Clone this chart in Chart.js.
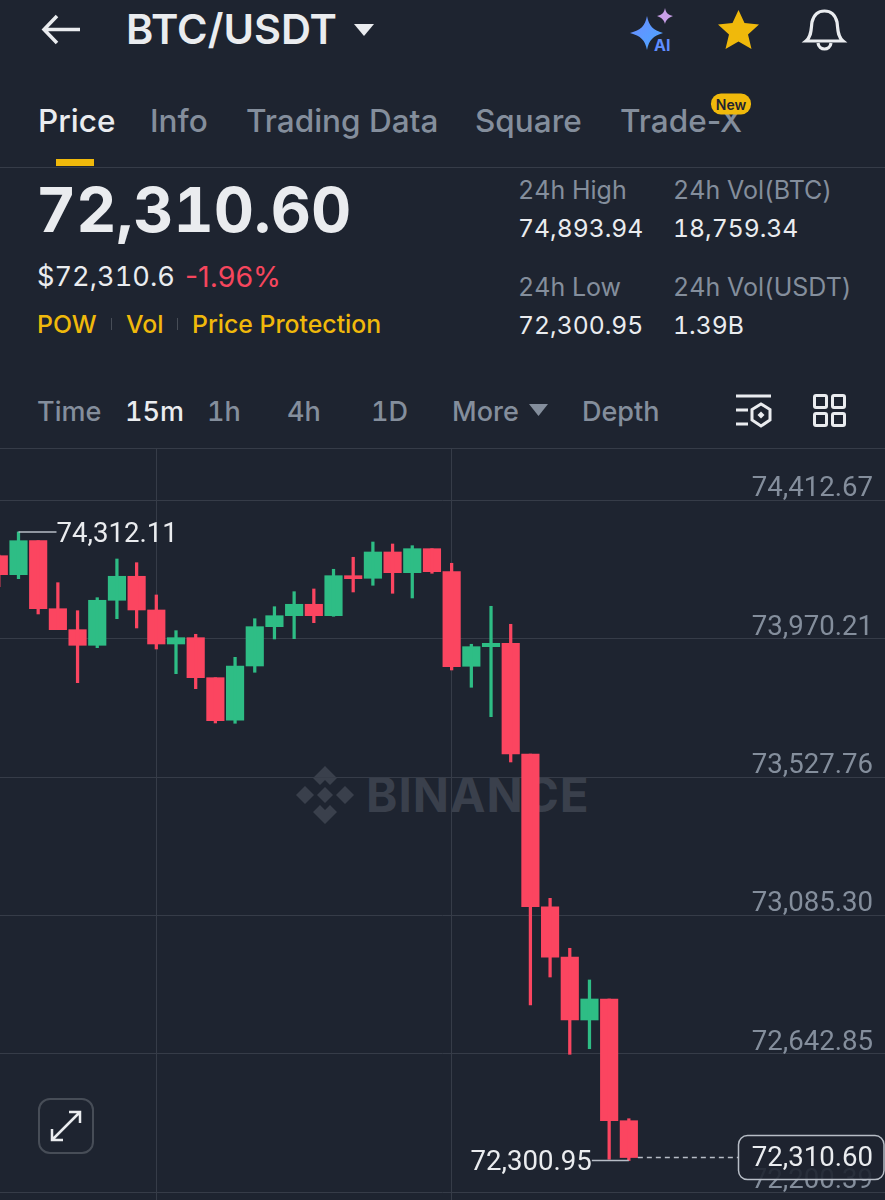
<!DOCTYPE html>
<html>
<head>
<meta charset="utf-8">
<title>BTC/USDT</title>
<script src="https://cdn.jsdelivr.net/npm/chart.js@4"></script>
<style>
  html, body { margin: 0; background: #1e2430; }
  body { position: relative; width: 885px; height: 1200px; overflow: hidden; font-family: Inter, sans-serif; color: #eaecef; }
  .t { position: absolute; transform: translateY(-50%); white-space: nowrap; line-height: 1; }
  .tab { font-size: 31.5px; color: #848e9c; font-weight: 500; }
  .stat { font-size: 25px; color: #848e9c; font-variant-numeric: tabular-nums; }
  .val { font-size: 24.7px; color: #eaecef; font-variant-numeric: tabular-nums; }
  .gold { font-size: 24.8px; color: #f0b90b; font-weight: 500; }
  .iv { font-size: 27px; color: #848e9c; font-weight: 500; font-variant-numeric: tabular-nums; }
  .rule { position: absolute; left: 0; width: 885px; height: 1px; background: #363c48; }
  svg { position: absolute; overflow: visible; }
  #chartBox { position: absolute; left: 0; top: 448px; width: 885px; height: 752px; }
</style>
</head>
<body>
<svg style="left:42px;top:14px" width="38" height="32" fill="none" stroke="#eaecef" stroke-width="3.5"><path d="M15 2 L2 15.5 L15 29 M2 15.5 H38"/></svg>
<div class="t" style="left:126px;top:30px;font-size:41.5px;font-weight:600">BTC/USDT</div>
<svg style="left:354px;top:24px" width="20" height="12"><path d="M0 0H20L10 12Z" fill="#eaecef"/></svg>
<svg style="left:630px;top:8px" width="48" height="46">
  <defs><linearGradient id="sp" x1="0" y1="0" x2="1" y2="1"><stop offset="0" stop-color="#6d8bff"/><stop offset="1" stop-color="#4aa8ff"/></linearGradient></defs>
  <path d="M17 8 C19 18 23 22 33 25 C23 28 19 32 17 42 C15 32 11 28 0 25 C11 22 15 18 17 8Z" fill="url(#sp)"/>
  <path d="M35 0 C36 5 38 7 43 8 C38 10 36 12 35 16 C34 12 32 10 27 8 C32 7 34 5 35 0Z" fill="#c9a0e8"/>
  <text x="24" y="43" font-family="Inter" font-weight="700" font-size="16" fill="#5f8dff">AI</text>
</svg>
<svg style="left:717px;top:9px" width="43" height="41"><path d="M21.5 1 L27.5 14 L42 15.5 L31 25.5 L34.5 40 L21.5 32.5 L8.5 40 L12 25.5 L1 15.5 L15.5 14Z" fill="#f0b90b"/></svg>
<svg style="left:804px;top:8px" width="41" height="44" fill="none" stroke="#eaecef" stroke-width="3.2"><path d="M2 33 C8 28 7 20 8 14 C10 6 15 3 20.5 3 C26 3 31 6 33 14 C34 20 33 28 39 33 Z"/><path d="M14 35 C15 43 26 43 27 35"/></svg>

<div class="t tab" style="left:38px;top:121px;color:#eaecef">Price</div>
<div class="t tab" style="left:150px;top:121px">Info</div>
<div class="t tab" style="left:246px;top:121px">Trading Data</div>
<div class="t tab" style="left:475px;top:121px">Square</div>
<div class="t tab" style="left:620px;top:121px">Trade-X</div>
<div class="t" style="left:711px;top:104px;width:40px;height:21px;line-height:21px;border-radius:10px;background:#f0b90b;color:#1e2430;font-size:14px;font-weight:600;text-align:center">New</div>
<div style="position:absolute;left:56px;top:159px;width:38px;height:7px;background:#f0b90b"></div>
<div class="rule" style="top:167px"></div>

<div class="t" style="left:36px;top:210px;font-size:62.3px;font-weight:700;font-variant-numeric:tabular-nums">72,310.60</div>
<div class="t" style="left:37px;top:277px;font-size:27.2px;font-variant-numeric:tabular-nums">$72,310.6</div>
<div class="t" style="left:185px;top:277px;font-size:28.5px;color:#f6465d">-1.96%</div>
<div class="t gold" style="left:37px;top:324px">POW</div>
<div class="t gold" style="left:126px;top:324px">Vol</div>
<div class="t gold" style="left:192px;top:324px">Price Protection</div>
<div style="position:absolute;left:111px;top:318px;width:1px;height:12px;background:#474d57"></div>
<div style="position:absolute;left:177px;top:318px;width:1px;height:12px;background:#474d57"></div>

<div class="t stat" style="left:518px;top:190px">24h High</div>
<div class="t val" style="left:518px;top:228px">74,893.94</div>
<div class="t stat" style="left:673px;top:190px">24h Vol(BTC)</div>
<div class="t val" style="left:673px;top:228px">18,759.34</div>
<div class="t stat" style="left:518px;top:287px">24h Low</div>
<div class="t val" style="left:518px;top:325px">72,300.95</div>
<div class="t stat" style="left:673px;top:287px">24h Vol(USDT)</div>
<div class="t val" style="left:673px;top:325px">1.39B</div>

<div class="t iv" style="left:37px;top:411px">Time</div>
<div class="t iv" style="left:125px;top:411px;color:#eaecef">15m</div>
<div class="t iv" style="left:207px;top:411px">1h</div>
<div class="t iv" style="left:287px;top:411px">4h</div>
<div class="t iv" style="left:371px;top:411px">1D</div>
<div class="t iv" style="left:452px;top:411px">More</div>
<svg style="left:529px;top:404px" width="19" height="12"><path d="M0 0H19L9.5 12Z" fill="#848e9c"/></svg>
<div class="t iv" style="left:582px;top:411px">Depth</div>
<svg style="left:735px;top:394px" width="38" height="34" fill="none" stroke="#eaecef" stroke-width="3"><path d="M1 2H36M1 16H13M1 30H13"/><path d="M26 10L35 15.5V26L26 32L17 26V15.5Z"/><path d="M26 17.5L29.5 21L26 24.5L22.5 21Z" fill="#eaecef" stroke="none"/></svg>
<svg style="left:813px;top:394px" width="33" height="33" fill="none" stroke="#eaecef" stroke-width="3"><rect x="1.5" y="1.5" width="12" height="12" rx="1.5"/><rect x="19.5" y="1.5" width="12" height="12" rx="1.5"/><rect x="1.5" y="19.5" width="12" height="12" rx="1.5"/><rect x="19.5" y="19.5" width="12" height="12" rx="1.5"/></svg>
<div class="rule" style="top:448px"></div>

<svg style="left:296px;top:766px" width="58" height="58" fill="#3a404c"><path d="M29 0L41 12L34 19L29 14L24 19L17 12Z"/><path d="M29 58L41 46L34 39L29 44L24 39L17 46Z"/><path d="M0 29L9 20L18 29L9 38Z"/><path d="M58 29L49 20L40 29L49 38Z"/><path d="M29 21L37 29L29 37L21 29Z"/></svg>
<div class="t" style="left:366px;top:795px;font-size:47.5px;font-weight:700;color:#3a404c;letter-spacing:1px">BINANCE</div>

<div id="chartBox"><canvas id="klineChart" width="885" height="752"></canvas></div>

<svg style="left:38px;top:1098px" width="56" height="56" fill="none" stroke="#eaecef" stroke-width="2.5"><rect x="1" y="1" width="54" height="54" rx="11" stroke="#474d57" stroke-width="2"/><path d="M14 42L42 14M31 14H42V25M14 31V42H25"/></svg>

<script>
const candleIndex = [0,1,2,3,4,5,6,7,8,9,10,11,12,13,14,15,16,17,18,19,20,21,22,23,24,25,26,27,28,29,30,31,32];
const opens = [74236.1,74175.3,74284.1,74066.5,73999.4,73949.4,74093.4,74170.2,74062.4,73953.6,73973.8,73845.8,73709.5,73883.2,74009,74044.1,74080.6,74044.1,74172.1,74163.8,74247.9,74181.7,74258.5,74184.9,73882.3,73945,73955.8,73601.7,73113.1,72951.6,72750.7,72817.9,72428.5];
const closes = [74175.3,74284.1,74066.5,73999.4,73949.4,74093.4,74170.2,74062.4,73953.6,73973.8,73845.8,73708.2,73883.2,74009,74044.1,74080.6,74044.1,74172.1,74162.5,74247.9,74181.7,74258.5,74184.9,73881,73945,73955.8,73601.7,73113.1,72951.6,72750.7,72817.9,72428.5,72310.6];
const highs = [74238,74312.11,74284.1,74149.7,74060.1,74101.7,74225.5,74213.7,74110.4,73996.2,73984.6,73845.8,73911,74034.5,74072.9,74120.9,74129.6,74192.6,74231,74279.9,74273.5,74268.1,74258.5,74211.8,73952.7,74074.2,74016.6,73601.7,73140,72980.1,72878.7,72817.9,72434.9];
const lows = [74136.9,74162.5,74049.6,73999.4,73829.8,73941.8,74034.5,74004.8,73937.6,73858.6,73810.6,73700.9,73699.9,73863.1,73969.6,73970.6,74021.7,74042.2,74120,74141.4,74115.8,74100.8,74179.8,73870.4,73815.1,73721,73576.1,72798.7,72888.2,72640.9,72658.8,72305,72300.95];
const priceTicks = [74412.67,73970.21,73527.76,73085.30,72642.85,72200.39];
const gridCandles = [8,23];
const highIndex = 1;
const lowIndex = 32;

const UP = '#2ebd85';
const DOWN = '#fb4560';
const AXIS_FONT = '27.6px Roboto';
const fmt = v => v.toLocaleString('en-US', { minimumFractionDigits: 2, maximumFractionDigits: 2 });
const candleColor = ctx => closes[ctx.dataIndex] >= opens[ctx.dataIndex] ? UP : DOWN;
const noPadding = scale => { scale.paddingTop = scale.paddingBottom = scale.paddingLeft = scale.paddingRight = 0; };

// high/low callouts, dashed last price line and the price box
const markers = {
  id: 'markers',
  afterDatasetsDraw(chart) {
    const { ctx, scales: { x, y } } = chart;
    const last = closes[closes.length - 1];
    ctx.save();
    ctx.font = AXIS_FONT;
    ctx.textBaseline = 'middle';

    const hx = x.getPixelForValue(highIndex);
    const hy = y.getPixelForValue(highs[highIndex]);
    ctx.strokeStyle = '#b7bdc6';
    ctx.lineWidth = 1.5;
    ctx.beginPath();
    ctx.moveTo(hx, hy);
    ctx.lineTo(hx + 38, hy);
    ctx.stroke();
    ctx.fillStyle = '#eaecef';
    ctx.textAlign = 'left';
    ctx.fillText(fmt(highs[highIndex]), hx + 38, hy + 3);

    const lx = x.getPixelForValue(lowIndex);
    const ly = y.getPixelForValue(lows[lowIndex]);
    ctx.beginPath();
    ctx.moveTo(lx, ly);
    ctx.lineTo(lx - 37, ly);
    ctx.stroke();
    ctx.textAlign = 'right';
    ctx.fillText(fmt(lows[lowIndex]), lx - 37, ly + 3);

    const py = y.getPixelForValue(last);
    ctx.setLineDash([5, 4]);
    ctx.strokeStyle = '#b7bdc6';
    ctx.beginPath();
    ctx.moveTo(lx + 9, py);
    ctx.lineTo(738, py);
    ctx.stroke();
    ctx.setLineDash([]);

    ctx.beginPath();
    ctx.roundRect(738.5, py - 22, 145.5, 44, 9);
    ctx.fillStyle = 'rgba(30,36,48,0.9)';
    ctx.fill();
    ctx.strokeStyle = '#b7bdc6';
    ctx.stroke();
    ctx.fillStyle = '#eaecef';
    ctx.textAlign = 'right';
    ctx.fillText(fmt(last), 873, py + 2);
    ctx.restore();
  }
};

new Chart(document.getElementById('klineChart'), {
  type: 'bar',
  data: {
    datasets: [
      {
        label: 'Wick',
        data: candleIndex.map(i => ({ x: i, y: [lows[i], highs[i]] })),
        backgroundColor: candleColor,
        barThickness: 2.6,
        grouped: false,
        borderSkipped: false
      },
      {
        label: 'Body',
        data: candleIndex.map(i => ({ x: i, y: [opens[i], closes[i]] })),
        backgroundColor: candleColor,
        barThickness: 17.5,
        grouped: false,
        borderSkipped: false
      }
    ]
  },
  plugins: [markers],
  options: {
    responsive: false,
    animation: false,
    layout: { padding: 0 },
    plugins: { legend: { display: false }, tooltip: { enabled: false } },
    scales: {
      x: {
        type: 'linear',
        min: 0.061,
        max: 45.01,
        offset: false,
        afterFit: noPadding,
        afterBuildTicks: scale => { scale.ticks = gridCandles.map(value => ({ value })); },
        ticks: { display: false },
        border: { display: false },
        grid: { color: '#363c48', drawTicks: false, offset: false }
      },
      y: {
        position: 'right',
        min: 72174.8,
        max: 74580.6,
        afterFit: scale => { noPadding(scale); scale.width = 0; },
        afterBuildTicks: scale => { scale.ticks = priceTicks.map(value => ({ value })); },
        ticks: {
          mirror: true,
          padding: -12,
          labelOffset: -11,
          autoSkip: false,
          color: '#848e9c',
          font: { family: 'Roboto', size: 27.6 },
          callback: v => fmt(v)
        },
        border: { display: false },
        grid: { color: '#363c48', drawTicks: false }
      }
    }
  }
});
</script>
</body>
</html>
